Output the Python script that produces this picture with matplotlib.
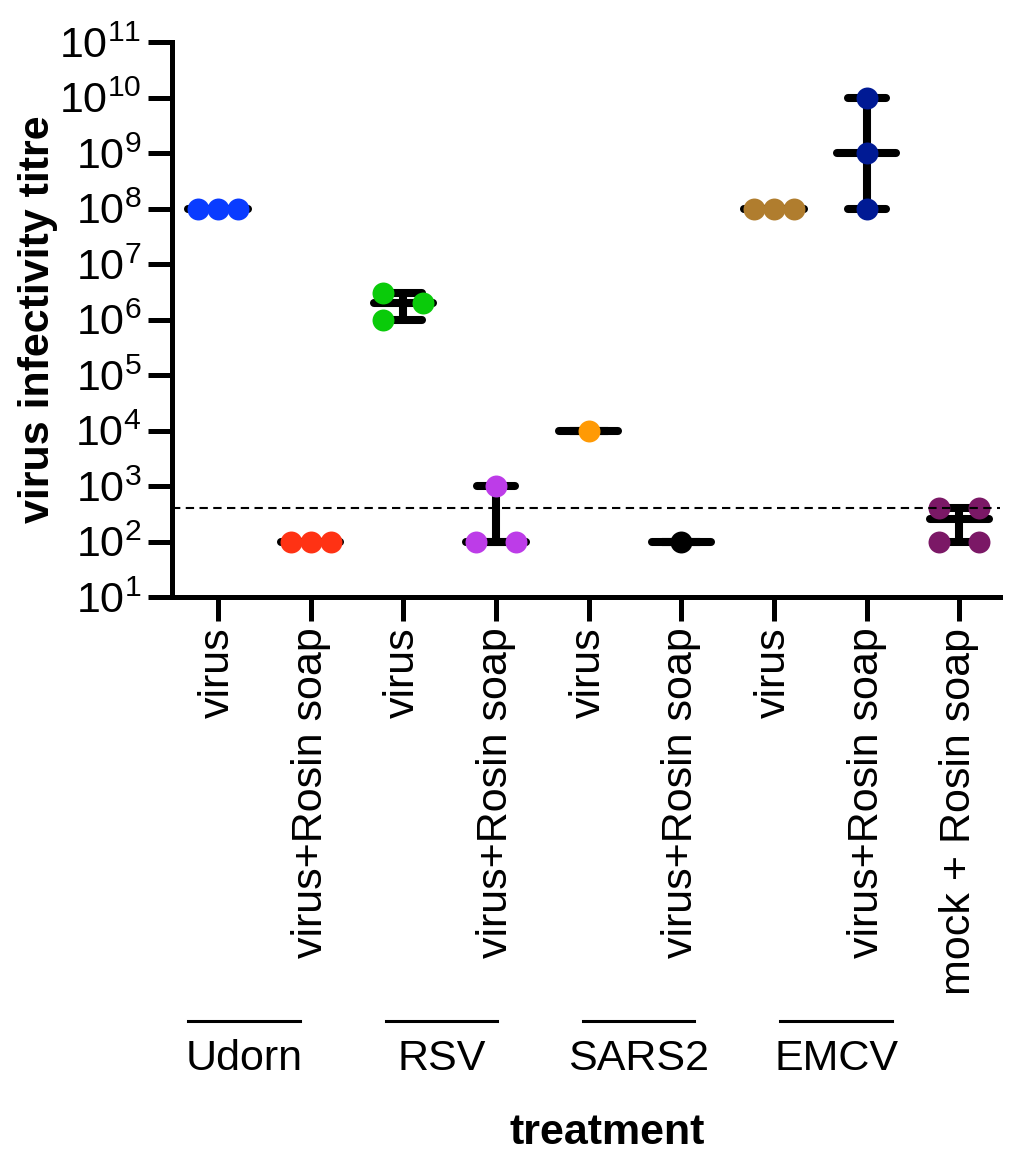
import numpy as np
import matplotlib
matplotlib.use("Agg")
import matplotlib.pyplot as plt
import matplotlib.transforms as mtransforms
from matplotlib.ticker import FixedLocator, FixedFormatter

plt.rcParams['font.family'] = ['Liberation Sans', 'DejaVu Sans']
plt.rcParams['mathtext.fontset'] = 'custom'
plt.rcParams['mathtext.rm'] = 'Liberation Sans'

# data
tick_labels = ['virus', 'virus+Rosin soap', 'virus', 'virus+Rosin soap', 'virus',
               'virus+Rosin soap', 'virus', 'virus+Rosin soap', 'mock + Rosin soap']
udorn_virus = [1e8, 1e8, 1e8]
udorn_soap = [1e2, 1e2, 1e2]
rsv_virus = [3e6, 1e6, 2e6]
rsv_soap = [1e3, 1e2, 1e2]
sars2_virus = [1e4]
sars2_soap = [1e2]
emcv_virus = [1e8, 1e8, 1e8]
emcv_soap = [1e10, 1e9, 1e8]
mock_soap = [400, 400, 100, 100]
detection_limit = 400
group_names = ['Udorn', 'RSV', 'SARS2', 'EMCV']

series = [udorn_virus, udorn_soap, rsv_virus, rsv_soap, sars2_virus,
          sars2_soap, emcv_virus, emcv_soap, mock_soap]
colors = ['#0A3CFF', '#FF3214', '#0ACB0A', '#BD3CE8', '#FF9A05',
          '#000000', '#B07D2E', '#001A94', '#7B1866']


def swarm_offsets(vals, step, gap=0.4):
    # spread tied / overlapping points sideways like the GraphPad scatter
    logv = np.log10(vals)
    offs = np.zeros(len(vals))
    singles = []
    for v in sorted(set(logv)):
        idx = [i for i in range(len(vals)) if logv[i] == v]
        n = len(idx)
        if n > 1:
            if n % 2:
                slots = np.arange(n) - (n - 1) / 2
            else:
                slots = 2 * np.arange(n) - (n - 1)
            offs[idx] = slots * step
        else:
            singles.append(idx[0])
    clusters = []
    for i in singles:
        if clusters and logv[i] - logv[clusters[-1][-1]] < gap:
            clusters[-1].append(i)
        else:
            clusters.append([i])
    for c in clusters:
        if len(c) > 1:
            for k, j in enumerate(c):
                offs[j] = (-1 if k % 2 == 0 else 1) * step
    return offs


W, H = 1011, 1151
fig = plt.figure(figsize=(W / 100, H / 100), dpi=100)
ax = fig.add_axes([172 / W, 1 - 597 / H, 828 / W, 555 / H])

step = 0.216
lw = 5.8
for k, vals in enumerate(series):
    x0 = k + 1
    vals = np.array(vals, dtype=float)
    med = np.median(vals)
    lo, hi = vals.min(), vals.max()
    ax.plot([x0, x0], [lo, hi], color='k', lw=lw, solid_capstyle='butt', zorder=2)
    ax.plot([x0 - 0.205, x0 + 0.205], [lo, lo], color='k', lw=lw, solid_capstyle='round', zorder=2)
    ax.plot([x0 - 0.205, x0 + 0.205], [hi, hi], color='k', lw=lw, solid_capstyle='round', zorder=2)
    ax.plot([x0 - 0.32, x0 + 0.32], [med, med], color='k', lw=lw, solid_capstyle='round', zorder=2)
    offs = swarm_offsets(vals, step)
    ax.plot(x0 + offs, vals, 'o', ms=15.8, color=colors[k], mec='none', zorder=3)

ax.axhline(detection_limit, color='k', lw=1.5, ls=(0, (4, 2.6)), zorder=4)

ax.set_yscale('log')
ax.set_ylim(10, 1e11)
ax.set_xlim(0.503, 9.44)
decades = [10.0 ** p for p in range(1, 12)]
ax.yaxis.set_major_locator(FixedLocator(decades))
ax.yaxis.set_major_formatter(FixedFormatter([r'$\mathdefault{10^{%d}}$' % p for p in range(1, 12)]))
ax.yaxis.set_minor_locator(FixedLocator([]))
ax.set_xticks(range(1, 10))
ax.set_xticklabels(tick_labels, rotation=90, va='top', ha='center')

for s in ['top', 'right']:
    ax.spines[s].set_visible(False)
for s in ['left', 'bottom']:
    ax.spines[s].set_linewidth(3.6)
ax.tick_params(axis='both', width=3.6, length=17, labelsize=31)
ax.tick_params(axis='y', pad=5)
ax.tick_params(axis='x', pad=5)

ax.set_ylabel('virus infectivity titre', fontsize=31, fontweight='bold')
ax.yaxis.set_label_coords(-0.138, 0.5)

# group labels under the category labels
trans = mtransforms.blended_transform_factory(ax.transData, ax.transAxes)
for g, name in enumerate(group_names):
    xc = 1.28 + 2.13 * g
    ax.plot([xc - 0.6, xc + 0.6], [-0.764, -0.764], color='k', lw=2.2,
            transform=trans, clip_on=False)
    ax.text(xc, -0.832, name, transform=trans, fontsize=31, ha='center', va='center')

fig.text(607 / W, 1 - 1144 / H, 'treatment', fontsize=31, fontweight='bold',
         ha='center', va='baseline')

fig.savefig('out.png', dpi=100)
